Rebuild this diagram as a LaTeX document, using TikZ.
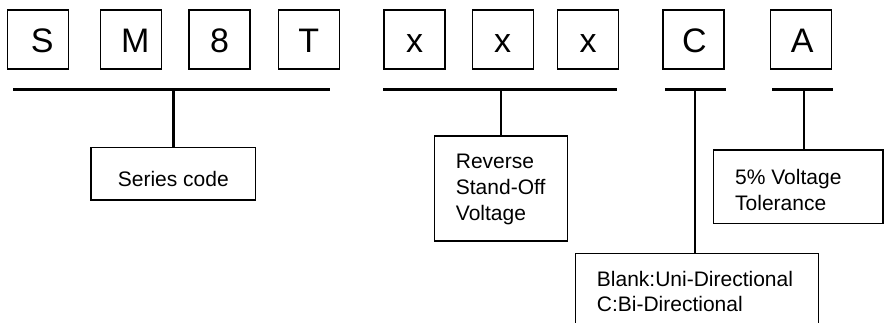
\documentclass[tikz,border=0pt]{standalone}
\usepackage{fontspec}
\setmainfont{Liberation Sans}
\begin{document}
\begin{tikzpicture}[x=1pt,y=-1pt,
  letterbox/.style={draw, line width=1.4pt, minimum width=61pt, minimum height=59pt,
    inner sep=0pt, font=\fontsize{34}{40}\selectfont, text height=26.4pt, text depth=0pt},
  labelbox/.style={draw, line width=1.4pt, inner sep=0pt},
  lbl/.style={font=\fontsize{21}{26}\selectfont, inner sep=0pt, anchor=base west},
  bar/.style={line width=2.5pt}]
\useasboundingbox (0,0) rectangle (884,322);
\clip (0,0) rectangle (884,322);
% letter boxes
\node[letterbox] (bS) at (38.2,39.3) {\hspace*{8pt}S};
\node[letterbox] (bM) at (131.2,39.3) {\hspace*{8pt}M};
\node[letterbox] (b8) at (219.5,39.3) {8};
\node[letterbox] (bT) at (308.7,39.3) {T};
\node[letterbox] (bx1) at (414.5,39.3) {x};
\node[letterbox] (bx2) at (502.7,39.3) {x};
\node[letterbox] (bx3) at (588.2,39.3) {x};
\node[letterbox] (bC) at (693.5,39.3) {\hspace*{2pt}C};
\node[letterbox] (bA) at (801.2,39.3) {\hspace*{2pt}A};
% bars
\coordinate (b1l) at (13.3,89.3); \coordinate (b1r) at (330,89.3); \coordinate (m1) at (173.3,89.3);
\coordinate (b2l) at (383,89.3); \coordinate (b2r) at (616.7,89.3); \coordinate (m2) at (501,89.3);
\coordinate (b3l) at (665,89.3); \coordinate (b3r) at (725.7,89.3); \coordinate (m3) at (695,89.3);
\coordinate (b4l) at (772,89.3); \coordinate (b4r) at (832.7,89.3); \coordinate (m4) at (804,89.3);
\draw[bar] (b1l) -- (b1r);
\draw[bar] (b2l) -- (b2r);
\draw[bar] (b3l) -- (b3r);
\draw[bar] (b4l) -- (b4r);
% label boxes
\node[labelbox, minimum width=164.7pt, minimum height=52.7pt] (series) at (173.3,173.7) {};
\node[labelbox, minimum width=133.4pt, minimum height=105pt] (rev) at (501,188.5) {};
\node[labelbox, minimum width=169.7pt, minimum height=73.3pt] (tol) at (798.2,186.7) {};
\node[labelbox, minimum width=243pt, minimum height=81.7pt] (dir) at (696.8,294.2) {};
% connectors
\draw[bar] (m1) -- (m1 |- series.north);
\draw[bar] (m2) -- (m2 |- rev.north);
\draw[bar] (m3) -- (m3 |- dir.north);
\draw[bar] (m4) -- (m4 |- tol.north);
% texts
\node[lbl, anchor=base] (tseries) at (173.3,186.7) {Series code};
\node[lbl] (trev1) at (455.7,168.3) {Reverse};
\node[lbl] (trev2) at (455.7,194.5) {Stand-Off};
\node[lbl] (trev3) at (455.7,220.7) {Voltage};
\node[lbl] (ttol1) at (735,184) {5\% Voltage};
\node[lbl] (ttol2) at (735,210.6) {Tolerance};
\node[lbl] (tdir1) at (596.7,286.7) {Blank:Uni-Directional};
\node[lbl] (tdir2) at (596.7,311.7) {C:Bi-Directional};
\end{tikzpicture}
\end{document}
